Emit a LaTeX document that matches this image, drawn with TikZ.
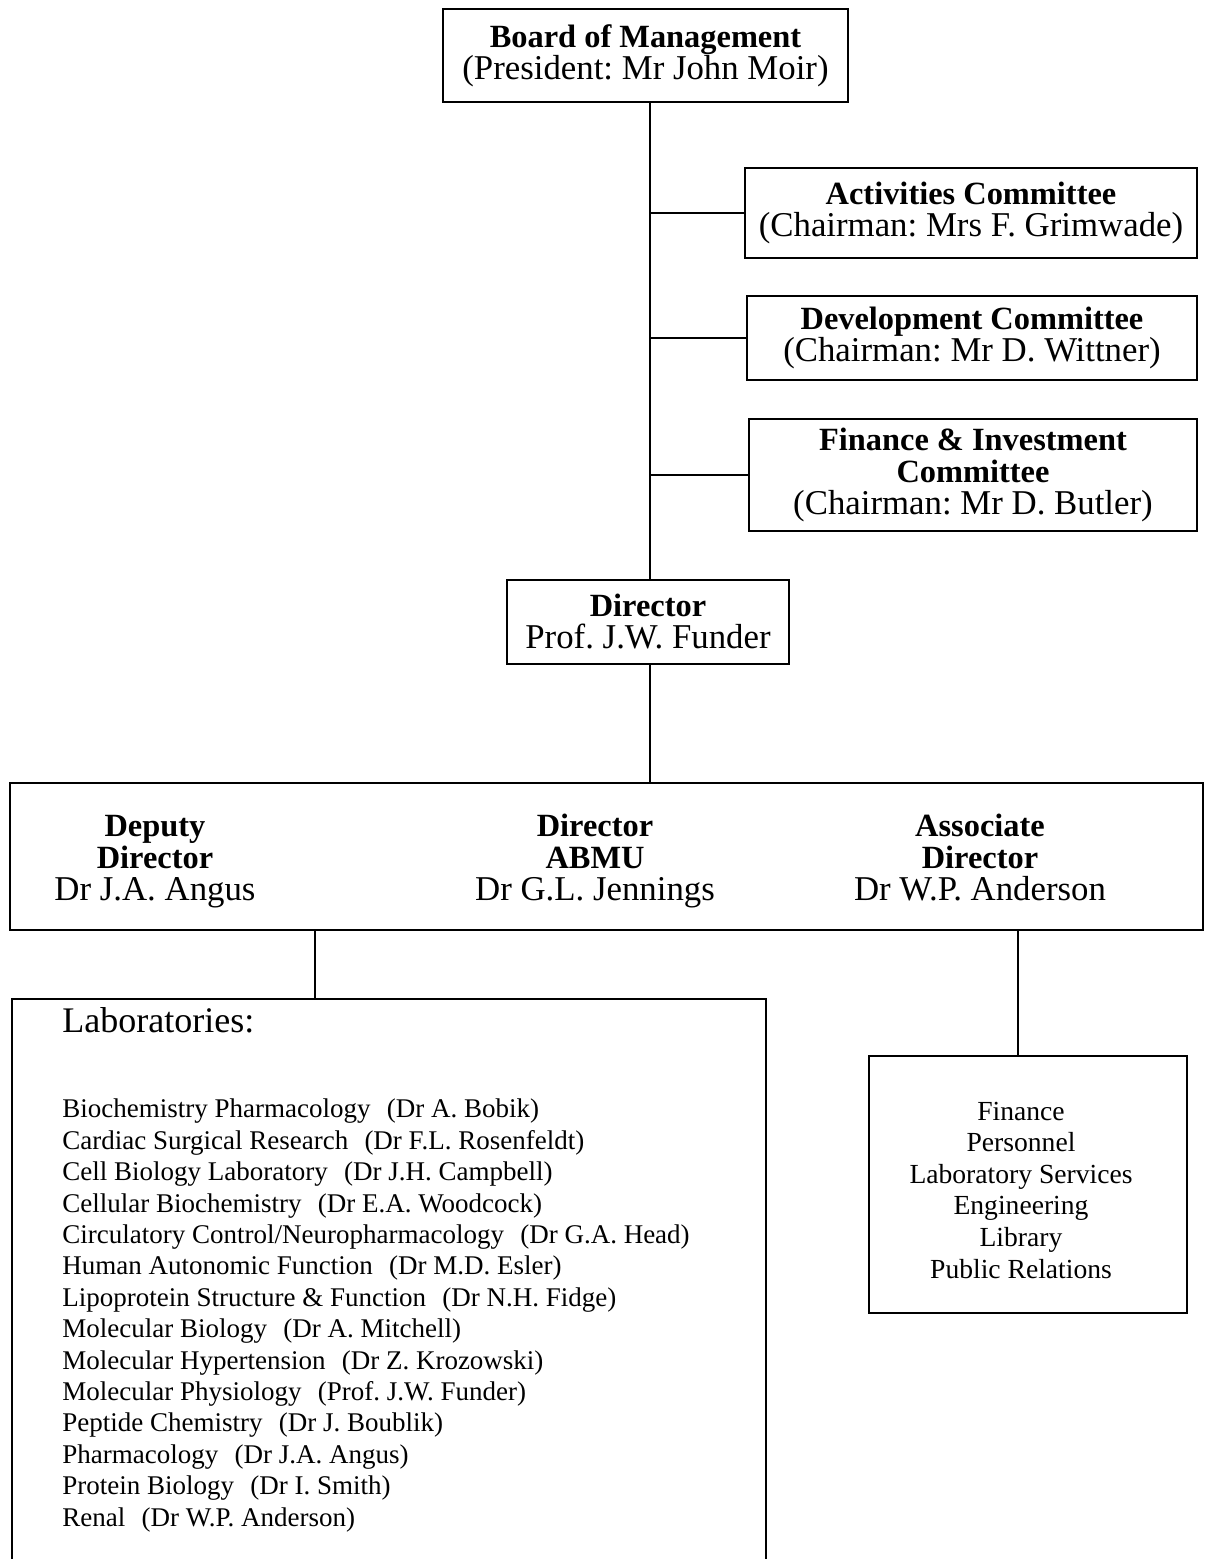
\documentclass[tikz,border=0pt]{standalone}
\usepackage{fontspec}
\setmainfont{Liberation Serif}
\usepackage{tikz}
\frenchspacing

\newcommand{\boxhead}[1]{{\fontsize{16.2}{16}\selectfont\bfseries #1}}
\newcommand{\labgap}{\hspace{0.6em}}

\begin{document}
\begin{tikzpicture}[x=0.5pt,y=-0.5pt]
                \tikzstyle{every node}+=[inner sep=0pt]
                \tikzstyle{orgbox}=[draw=black, line width=1.4pt, align=center, font=\fontsize{17.4}{16}\selectfont]
                \tikzstyle{link}=[black, line width=1.4pt]
                \useasboundingbox (0,0) rectangle (1212,1559);
                \clip (0,0) rectangle (1212,1559);
                \coordinate (trunk) at (650,0);
                \coordinate (lablink) at (315,0);
                \coordinate (servlink) at (1018,0);
                \node [orgbox, minimum width=202.5pt, minimum height=46.5pt] (board) at (645.5,55.5)
                    {\boxhead{Board of Management}\\(President: Mr John Moir)};
                \node [orgbox, minimum width=226pt, minimum height=45pt] (act) at (971,213)
                    {\boxhead{Activities Committee}\\(Chairman: Mrs F. Grimwade)};
                \node [orgbox, minimum width=225pt, minimum height=42pt] (dev) at (972,338)
                    {\boxhead{Development Committee}\\(Chairman: Mr D. Wittner)};
                \node [orgbox, minimum width=224pt, minimum height=56pt] (fin) at (973,475)
                    {\boxhead{Finance \& Investment}\\\boxhead{Committee}\\(Chairman: Mr D. Butler)};
                \node [orgbox, minimum width=141pt, minimum height=42pt] (dir) at (648,622)
                    {\boxhead{Director}\\Prof. J.W. Funder};
                \node [orgbox, minimum width=596.5pt, minimum height=73.5pt] (staff) at (606.5,856.5) {};
                \node [anchor=base, align=center, font=\fontsize{17.4}{16}\selectfont] (deputy) at (155,900)
                    {\boxhead{Deputy}\\\boxhead{Director}\\Dr J.A. Angus};
                \node [anchor=base, align=center, font=\fontsize{17.4}{16}\selectfont] (abmu) at (595,900)
                    {\boxhead{Director}\\\boxhead{ABMU}\\Dr G.L. Jennings};
                \node [anchor=base, align=center, font=\fontsize{17.4}{16}\selectfont] (assoc) at (980,900)
                    {\boxhead{Associate}\\\boxhead{Director}\\Dr W.P. Anderson};
                \node [orgbox, minimum width=377pt, minimum height=310.5pt] (labs) at (389,1309.5) {};
                \node [anchor=base west, font=\fontsize{18}{18}\selectfont] (labhead) at (62,1032) {Laboratories:};
                \node [anchor=base west, align=left, font=\fontsize{13.5}{15.7}\selectfont] (lablist) at (62,1526)
                    {Biochemistry Pharmacology\labgap(Dr A. Bobik)\\
                     Cardiac Surgical Research\labgap(Dr F.L. Rosenfeldt)\\
                     Cell Biology Laboratory\labgap(Dr J.H. Campbell)\\
                     Cellular Biochemistry\labgap(Dr E.A. Woodcock)\\
                     Circulatory Control/Neuropharmacology\labgap(Dr G.A. Head)\\
                     Human Autonomic Function\labgap(Dr M.D. Esler)\\
                     Lipoprotein Structure \& Function\labgap(Dr N.H. Fidge)\\
                     Molecular Biology\labgap(Dr A. Mitchell)\\
                     Molecular Hypertension\labgap(Dr Z. Krozowski)\\
                     Molecular Physiology\labgap(Prof. J.W. Funder)\\
                     Peptide Chemistry\labgap(Dr J. Boublik)\\
                     Pharmacology\labgap(Dr J.A. Angus)\\
                     Protein Biology\labgap(Dr I. Smith)\\
                     Renal\labgap(Dr W.P. Anderson)};
                \node [orgbox, minimum width=159pt, minimum height=128.5pt] (serv) at (1028,1184.5) {};
                \node [align=center, font=\fontsize{13.8}{15.8}\selectfont] (servlist) at (1021,1190)
                    {Finance\\Personnel\\Laboratory Services\\Engineering\\Library\\Public Relations};
                % trunk and side branches
                \draw [link] (board.south -| trunk) -- (dir.north -| trunk);
                \draw [link] (act.west) -- (act.west -| trunk);
                \draw [link] (dev.west) -- (dev.west -| trunk);
                \draw [link] (fin.west) -- (fin.west -| trunk);
                \draw [link] (dir.south -| trunk) -- (staff.north -| trunk);
                \draw [link] (staff.south -| lablink) -- (labs.north -| lablink);
                \draw [link] (staff.south -| servlink) -- (serv.north -| servlink);
\end{tikzpicture}
\end{document}
